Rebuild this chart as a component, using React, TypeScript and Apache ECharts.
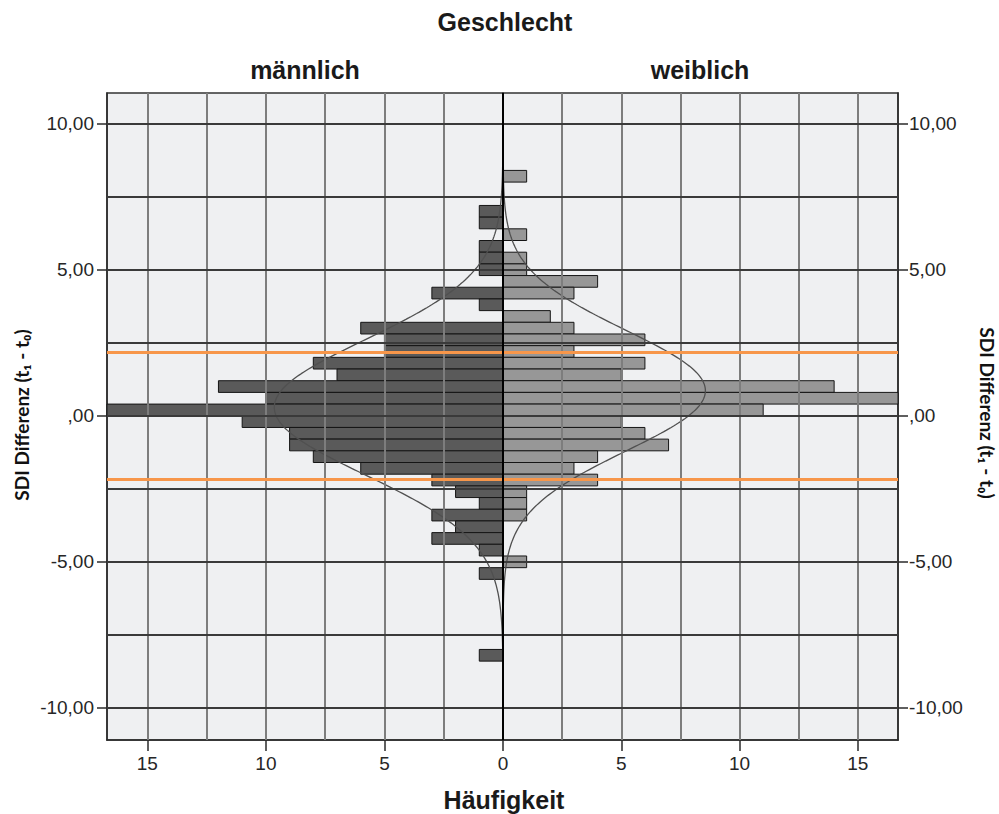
import React, { useEffect, useRef } from "react";
import * as echarts from "echarts";

// Histogram bins (centre of each 0.4-wide bin of "SDI Differenz (t1 - t0)")
const BIN_CENTERS = [
  8.2, 7.8, 7.4, 7.0, 6.6, 6.2, 5.8, 5.4, 5.0, 4.6, 4.2, 3.8, 3.4, 3.0, 2.6, 2.2, 1.8, 1.4, 1.0, 0.6, 0.2,
  -0.2, -0.6, -1.0, -1.4, -1.8, -2.2, -2.6, -3.0, -3.4, -3.8, -4.2, -4.6, -5.0, -5.4, -5.8, -6.2, -6.6,
  -7.0, -7.4, -7.8, -8.2,
];
const BIN_WIDTH = 0.4;
const MALE_COUNTS = [
  0, 0, 0, 1, 1, 0, 1, 1, 1, 0, 3, 1, 0, 6, 5, 5, 8, 7, 12, 10, 17, 11, 9, 9, 8, 6, 3, 2, 1, 3, 2, 3, 1, 0, 1,
  0, 0, 0, 0, 0, 0, 1,
];
const FEMALE_COUNTS = [
  1, 0, 0, 0, 0, 1, 0, 1, 1, 4, 3, 0, 2, 3, 6, 3, 6, 5, 14, 17, 11, 5, 6, 7, 4, 3, 4, 1, 1, 1, 0, 0, 0, 1, 0,
  0, 0, 0, 0, 0, 0, 0,
];

// Fitted normal curves
const MALE_MEAN = 0.29;
const MALE_SD = 2.3;
const MALE_N = 139;
const FEMALE_MEAN = 0.86;
const FEMALE_SD = 2.07;
const FEMALE_N = 111;

// Reference lines
const REF_LINES = [2.18, -2.18];

// Axes
const Y_MIN = -11.1;
const Y_MAX = 11.05;
const X_MAX = 16.7;
const Y_LABELS = [-10, -5, 0, 5, 10];
const Y_GRID = [-10, -7.5, -5, -2.5, 0, 2.5, 5, 7.5, 10];
const X_GRID = [2.5, 5, 7.5, 10, 12.5, 15];
const X_LABELS_LEFT = [5, 10, 15];
const X_LABELS_RIGHT = [0, 5, 10, 15];

const TEXT_FONT = "'Liberation Sans', Arial, sans-serif";
const NAME_FONT = "Lato, 'DejaVu Sans', sans-serif";
const AXIS_COLOR = "#2a2a2a";

const normalCurve = (mean: number, sd: number, n: number) => {
  const pts: number[][] = [];
  const peak = (n * BIN_WIDTH) / (sd * Math.sqrt(2 * Math.PI));
  for (let y = Y_MIN; y <= Y_MAX + 1e-9; y += 0.05) {
    const z = (y - mean) / sd;
    pts.push([peak * Math.exp(-0.5 * z * z), y]);
  }
  return pts;
};

const yFormatter = (v: number) => (v === 0 ? ",00" : v.toFixed(2).replace(".", ","));

const renderBar = (fill: string) => (params: any, api: any) => {
  const center = api.value(0);
  const count = api.value(1);
  if (!count) return null;
  const a = api.coord([0, center + BIN_WIDTH / 2]);
  const b = api.coord([count, center - BIN_WIDTH / 2]);
  const cs = params.coordSys;
  const rect = echarts.graphic.clipRectByRect(
    {
      x: Math.min(a[0], b[0]),
      y: Math.min(a[1], b[1]),
      width: Math.abs(b[0] - a[0]),
      height: Math.abs(b[1] - a[1]),
    },
    { x: cs.x, y: cs.y, width: cs.width, height: cs.height }
  );
  if (!rect) return null;
  return {
    type: "rect",
    shape: rect,
    style: { fill, stroke: "#151515", lineWidth: 1 },
  };
};

const gridLines = () => [
  ...X_GRID.map((v) => ({ xAxis: v, lineStyle: { color: "#7d7d7d", width: 2, type: "solid" } })),
  ...Y_GRID.map((v) => ({ yAxis: v, lineStyle: { color: "#3a3a3a", width: 2, type: "solid" } })),
];

const topLines = () => [
  ...REF_LINES.map((v) => ({ yAxis: v, lineStyle: { color: "#F7964A", width: 3, type: "solid" } })),
  { xAxis: 0, lineStyle: { color: "#000", width: 2, type: "solid" } },
];

const markLineBase = {
  silent: true,
  symbol: ["none", "none"],
  label: { show: false },
  animation: false,
};

const xAxisFor = (gridIndex: number, inverse: boolean, labels: number[]) => ({
  type: "value",
  gridIndex,
  min: 0,
  max: X_MAX,
  inverse,
  position: "bottom",
  axisLine: { show: true, onZero: false, lineStyle: { color: AXIS_COLOR, width: 1.5 } },
  axisTick: { show: true, customValues: labels, length: 11, lineStyle: { color: AXIS_COLOR, width: 1.5 } },
  axisLabel: {
    show: true,
    customValues: labels,
    fontSize: 19,
    color: "#262626",
    fontFamily: TEXT_FONT,
    margin: 14,
  },
  splitLine: { show: false },
});

const yAxisFor = (gridIndex: number, position: string, margin: number) => ({
  type: "value",
  gridIndex,
  min: Y_MIN,
  max: Y_MAX,
  position,
  axisLine: { show: true, onZero: false, lineStyle: { color: AXIS_COLOR, width: 1.5 } },
  axisTick: { show: true, customValues: Y_LABELS, length: 10, lineStyle: { color: AXIS_COLOR, width: 1.5 } },
  axisLabel: {
    show: true,
    customValues: Y_LABELS,
    formatter: yFormatter,
    fontSize: 19,
    color: "#262626",
    fontFamily: TEXT_FONT,
    margin,
  },
  splitLine: { show: false },
});

const gridBase = {
  top: 93,
  height: 647,
  show: true,
  backgroundColor: "#EFF0F2",
  borderColor: "#333",
  borderWidth: 1.5,
  containLabel: false,
  outerBoundsMode: "none",
};

const titleText = (text: string, x: number, y: number) => ({
  type: "text",
  x,
  y,
  style: {
    text,
    font: `bold 25px ${TEXT_FONT}`,
    fill: "#1a1a1a",
    align: "center",
    verticalAlign: "middle",
  },
});

const buildOption = () => ({
  animation: false,
  backgroundColor: "#ffffff",
  grid: [
    { ...gridBase, left: 107, width: 396 },
    { ...gridBase, left: 503, width: 395 },
  ],
  xAxis: [xAxisFor(0, true, X_LABELS_LEFT), xAxisFor(1, false, X_LABELS_RIGHT)],
  yAxis: [yAxisFor(0, "left", 13), yAxisFor(1, "right", 11)],
  series: [
    // grid lines (below bars)
    ...[0, 1].map((i) => ({
      type: "line",
      xAxisIndex: i,
      yAxisIndex: i,
      data: [],
      z: 1,
      markLine: { ...markLineBase, data: gridLines() },
    })),
    {
      type: "custom",
      name: "männlich",
      xAxisIndex: 0,
      yAxisIndex: 0,
      z: 2,
      encode: { x: 1, y: 0 },
      renderItem: renderBar("#5a5a5a"),
      data: BIN_CENTERS.map((c, i) => [c, MALE_COUNTS[i]]),
    },
    {
      type: "custom",
      name: "weiblich",
      xAxisIndex: 1,
      yAxisIndex: 1,
      z: 2,
      encode: { x: 1, y: 0 },
      renderItem: renderBar("#979797"),
      data: BIN_CENTERS.map((c, i) => [c, FEMALE_COUNTS[i]]),
    },
    {
      type: "line",
      xAxisIndex: 0,
      yAxisIndex: 0,
      z: 3,
      showSymbol: false,
      silent: true,
      lineStyle: { color: "#505050", width: 1.3 },
      data: normalCurve(MALE_MEAN, MALE_SD, MALE_N),
    },
    {
      type: "line",
      xAxisIndex: 1,
      yAxisIndex: 1,
      z: 3,
      showSymbol: false,
      silent: true,
      lineStyle: { color: "#505050", width: 1.3 },
      data: normalCurve(FEMALE_MEAN, FEMALE_SD, FEMALE_N),
    },
    ...[0, 1].map((i) => ({
      type: "line",
      xAxisIndex: i,
      yAxisIndex: i,
      data: [],
      z: 4,
      markLine: { ...markLineBase, data: topLines() },
    })),
  ],
  graphic: [
    titleText("Geschlecht", 505, 22),
    titleText("männlich", 305, 70),
    titleText("weiblich", 700, 70),
    titleText("Häufigkeit", 504, 800),
    {
      type: "text",
      x: 21,
      y: 415,
      rotation: Math.PI / 2,
      style: {
        text: "SDI Differenz (t₁ - t₀)",
        font: `bold 19px ${NAME_FONT}`,
        fill: "#111",
        align: "center",
        verticalAlign: "middle",
      },
    },
    {
      type: "text",
      x: 987,
      y: 413,
      rotation: -Math.PI / 2,
      style: {
        text: "SDI Differenz (t₁ - t₀)",
        font: `bold 19px ${NAME_FONT}`,
        fill: "#111",
        align: "center",
        verticalAlign: "middle",
      },
    },
  ],
});

export default function App() {
  const ref = useRef<HTMLDivElement>(null);
  useEffect(() => {
    if (!ref.current) return;
    const chart = echarts.init(ref.current, undefined, { renderer: "svg" });
    chart.setOption(buildOption() as any);
    return () => chart.dispose();
  }, []);
  return (
    <div
      ref={ref}
      style={{ position: "absolute", left: 0, top: 0, width: 999, height: 814, background: "#fff" }}
    />
  );
}
